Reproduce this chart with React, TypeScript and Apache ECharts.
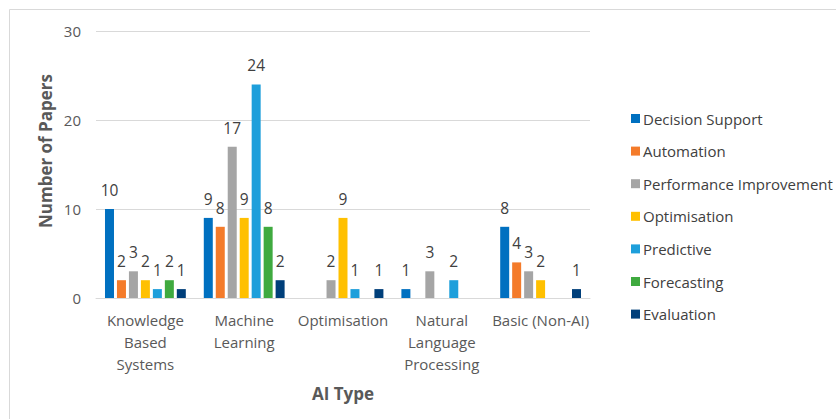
import React, { useEffect, useRef } from "react";
import * as echarts from "echarts";

const categories = [
  "Knowledge\nBased\nSystems",
  "Machine\nLearning",
  "Optimisation",
  "Natural\nLanguage\nProcessing",
  "Basic (Non-AI)",
];
const seriesNames = [
  "Decision Support",
  "Automation",
  "Performance Improvement",
  "Optimisation",
  "Predictive",
  "Forecasting",
  "Evaluation",
];
const decisionSupport = [10, 9, null, 1, 8];
const automation = [2, 8, null, null, 4];
const performanceImprovement = [3, 17, 2, 3, 3];
const optimisation = [2, 9, 9, null, 2];
const predictive = [1, 24, 1, 2, null];
const forecasting = [2, 8, null, null, null];
const evaluation = [1, 2, 1, null, 1];
const seriesValues = [
  decisionSupport,
  automation,
  performanceImprovement,
  optimisation,
  predictive,
  forecasting,
  evaluation,
];
const colors = ["#0070C0", "#F47B2A", "#A5A5A5", "#FFC000", "#1E9FDB", "#3FAA3F", "#003F7A"];
const yTicks = [0, 10, 20, 30];
const yAxisTitle = "Number of Papers";
const xAxisTitle = "AI Type";

const FONT = "'Open Sans', 'Liberation Sans', sans-serif";

export default function App() {
  const ref = useRef<HTMLDivElement>(null);
  useEffect(() => {
    if (!ref.current) return;
    const chart = echarts.init(ref.current, undefined, { renderer: "svg" });
    chart.setOption({
      animation: false,
      backgroundColor: "#ffffff",
      textStyle: { fontFamily: FONT },
      graphic: [
        {
          type: "rect",
          shape: { x: 9.5, y: 9.5, width: 840, height: 420 },
          style: { fill: "none", stroke: "#D9D9D9", lineWidth: 1 },
          silent: true,
        },
        {
          type: "text",
          x: 45,
          y: 151,
          rotation: Math.PI / 2,
          style: {
            text: yAxisTitle,
            fontFamily: FONT,
            fontSize: 17,
            fontWeight: "bold",
            fill: "#595959",
            align: "center",
            verticalAlign: "middle",
          },
        },
      ],
      legend: {
        orient: "vertical",
        left: 626,
        top: 106,
        itemWidth: 9,
        itemHeight: 9,
        itemGap: 17.6,
        icon: "rect",
        data: seriesNames,
        textStyle: { fontFamily: FONT, fontSize: 15, color: "#404040", padding: [0, 0, 0, -2] },
      },
      grid: { left: 96, right: 246, top: 31, bottom: 121 },
      xAxis: {
        type: "category",
        data: categories,
        name: xAxisTitle,
        nameLocation: "middle",
        nameGap: 87,
        nameTextStyle: { fontFamily: FONT, fontSize: 17, fontWeight: "bold", color: "#595959" },
        axisLine: { lineStyle: { color: "#D9D9D9" } },
        axisTick: { show: false },
        axisLabel: {
          interval: 0,
          margin: 11,
          fontFamily: FONT,
          fontSize: 15,
          lineHeight: 22,
          color: "#595959",
        },
      },
      yAxis: {
        type: "value",
        min: 0,
        max: 30,
        interval: 10,
        axisLine: { show: false },
        axisTick: { show: false },
        splitLine: { lineStyle: { color: "#D9D9D9" } },
        axisLabel: {
          margin: 15,
          fontFamily: FONT,
          fontSize: 15,
          color: "#595959",
          formatter: (v: number) => (yTicks.includes(v) ? String(v) : ""),
        },
      },
      series: seriesNames.map((name, i) => ({
        name,
        type: "bar",
        data: seriesValues[i],
        barWidth: 9,
        barGap: "33%",
        itemStyle: { color: colors[i] },
        label: {
          show: true,
          position: "top",
          distance: 11,
          fontFamily: FONT,
          fontSize: 15.5,
          color: "#404040",
        },
      })),
    });
    return () => chart.dispose();
  }, []);
  return <div ref={ref} style={{ width: 836, height: 419, position: "absolute", left: 0, top: 0 }} />;
}
